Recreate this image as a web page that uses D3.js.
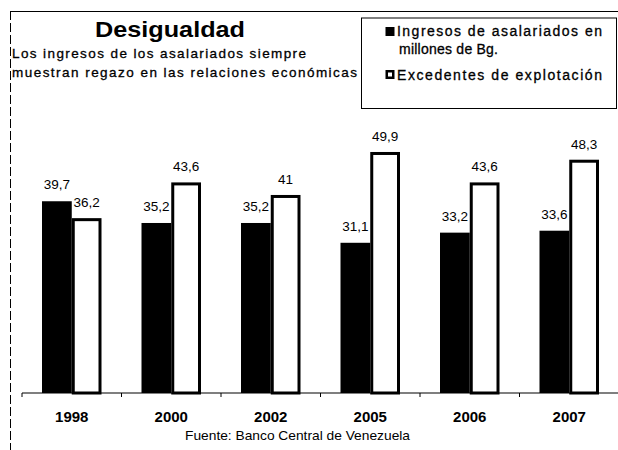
<!DOCTYPE html>
<html><head><meta charset="utf-8">
<script src="https://cdn.jsdelivr.net/npm/d3@7"></script>
<style>html,body{margin:0;padding:0;background:#fff;}svg{display:block;}text{font-family:"Liberation Sans",Arial,sans-serif;fill:#000;}</style>
</head><body>
<svg id="c" width="618" height="450"></svg>
<script>
const years = ["1998","2000","2002","2005","2006","2007"];
const ingresos = [39.7, 35.2, 35.2, 31.1, 33.2, 33.6];
const excedentes = [36.2, 43.6, 41, 49.9, 43.6, 48.3];
const ingresosLabels = ["39,7","35,2","35,2","31,1","33,2","33,6"];
const excedentesLabels = ["36,2","43,6","41","49,9","43,6","48,3"];
const seriesNames = ["Ingresos de asalariados en millones de Bg.","Excedentes de explotación"];
const title = "Desigualdad";
const subtitle = ["Los ingresos de los asalariados siempre","muestran regazo en las relaciones económicas"];
const source = "Fuente: Banco Central de Venezuela";

const svg = d3.select("#c");
svg.append("rect").attr("width",618).attr("height",450).attr("fill","#fff");

// frame
svg.append("line").attr("x1",10).attr("x2",618).attr("y1",11.5).attr("y2",11.5).attr("stroke","#000").attr("stroke-width",1);
svg.append("line").attr("x1",10.5).attr("x2",10.5).attr("y1",11).attr("y2",450).attr("stroke","#000").attr("stroke-width",1).attr("stroke-dasharray","9,3");

const base = 393;
const x = d3.scaleBand().domain(years).range([22, 619]).padding(0);
const x1 = d3.scaleBand().domain(["ing","exc"]).range([20, 79.5]).padding(0);
const y = d3.scaleLinear().domain([0, 50]).range([base, 151.5]);

const g = svg.append("g");
const data = years.map((yr,i)=>({yr, ing:ingresos[i], exc:excedentes[i], li:ingresosLabels[i], le:excedentesLabels[i]}));

// black bars
g.selectAll("rect.ing").data(data).join("rect").attr("class","ing")
  .attr("x", d=>x(d.yr)+x1("ing")).attr("width", x1.bandwidth())
  .attr("y", d=>y(d.ing)).attr("height", d=>base - y(d.ing)).attr("fill","#000");
// black labels (under white bars)
g.selectAll("text.li").data(data).join("text").attr("class","li")
  .attr("x", d=>x(d.yr)+x1("ing")+x1.bandwidth()/2).attr("y", d=>y(d.ing)-12)
  .attr("text-anchor","middle").attr("font-size",13.5).text(d=>d.li);
// white bars
const sw = 3;
g.selectAll("rect.exc").data(data).join("rect").attr("class","exc")
  .attr("x", d=>x(d.yr)+x1("exc")+sw/2).attr("width", x1.bandwidth()-sw)
  .attr("y", d=>y(d.exc)+sw/2).attr("height", d=>base - y(d.exc)-sw/2)
  .attr("fill","#fff").attr("stroke","#000").attr("stroke-width",sw);
g.selectAll("text.le").data(data).join("text").attr("class","le")
  .attr("x", d=>x(d.yr)+x1("exc")+x1.bandwidth()/2).attr("y", d=>y(d.exc)-11)
  .attr("text-anchor","middle").attr("font-size",13.5).text(d=>d.le);

// axis
const ax = svg.append("g").attr("transform",`translate(0,${base})`)
  .call(d3.axisBottom(x).tickSize(0).tickPadding(0).tickFormat(""));
ax.select(".domain").attr("stroke","#000").attr("stroke-width",1.2).attr("d","M22,0H618");
ax.selectAll(".tick").remove();
svg.append("g").selectAll("line").data(years).join("line")
  .attr("x1",d=>x(d)).attr("x2",d=>x(d)).attr("y1",base).attr("y2",base+4)
  .attr("stroke","#000").attr("stroke-width",1);
svg.append("g").selectAll("text").data(years).join("text")
  .attr("x",d=>x(d)+x.bandwidth()/2).attr("y",422).attr("text-anchor","middle")
  .attr("font-size",15).attr("font-weight","bold").text(d=>d);

// title
svg.append("text").attr("x",95).attr("y",36.5).attr("font-size",22).attr("font-weight","bold")
  .attr("textLength",150).attr("lengthAdjust","spacingAndGlyphs").text(title);
const subW = [294, 345];
svg.selectAll("text.sub").data(subtitle).join("text").attr("class","sub")
  .attr("x",12).attr("y",(d,i)=>58+i*18.5).attr("font-size",13.5)
  .attr("stroke","#000").attr("stroke-width",0.3)
  .attr("textLength",(d,i)=>subW[i]).attr("lengthAdjust","spacing").text(d=>d);

// source
svg.append("text").attr("x",185).attr("y",440).attr("font-size",13)
  .attr("textLength",225).attr("lengthAdjust","spacingAndGlyphs").text(source);

// legend
svg.append("rect").attr("x",361.5).attr("y",18).attr("width",255).attr("height",90.5)
  .attr("fill","#fff").attr("stroke","#000").attr("stroke-width",1);
svg.append("rect").attr("x",385.5).attr("y",27).attr("width",9).attr("height",9).attr("fill","#000");
svg.append("rect").attr("x",386.75).attr("y",71.25).attr("width",6.5).attr("height",6.5)
  .attr("fill","#fff").attr("stroke","#000").attr("stroke-width",2.5);
const legLines = ["Ingresos de asalariados en","millones de Bg.","Excedentes de explotación"];
const legX = [397, 399, 397], legY = [35.7, 53.5, 80], legW = [205, 99, 205];
svg.selectAll("text.leg").data(legLines).join("text").attr("class","leg")
  .attr("x",(d,i)=>legX[i]).attr("y",(d,i)=>legY[i]).attr("font-size",14)
  .attr("stroke","#000").attr("stroke-width",0.3)
  .attr("textLength",(d,i)=>legW[i]).attr("lengthAdjust","spacing").text(d=>d);
</script>
</body></html>
